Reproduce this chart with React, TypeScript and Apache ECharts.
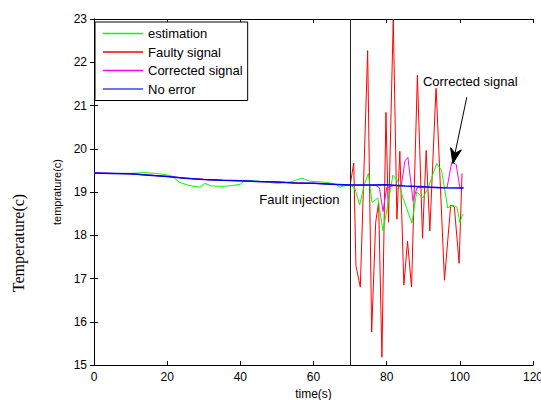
import React, { useEffect, useRef } from "react";
import * as echarts from "echarts";

const seriesNames = ["estimation", "Faulty signal", "Corrected signal", "No error"];
const xTicks = { min: 0, max: 120, interval: 20 };
const yTicks = { min: 15, max: 23, interval: 1 };
const faultTime = 70;

// No error (blue)
const noError: [number, number][] = [
  [0, 19.44], [5, 19.43], [10, 19.42], [15, 19.39], [20, 19.36], [25, 19.32], [30, 19.29],
  [35, 19.27], [40, 19.26], [45, 19.24], [50, 19.23], [55, 19.21], [60, 19.2], [65, 19.18],
  [70, 19.16], [75, 19.16], [80, 19.17], [85, 19.14], [90, 19.12], [95, 19.1], [100, 19.09], [101, 19.09],
];

// Pre-fault part shared by faulty and corrected signals
const preFault: [number, number][] = [
  [0, 19.44], [5, 19.43], [10, 19.42], [15, 19.39], [20, 19.36], [25, 19.32], [30, 19.29],
  [35, 19.27], [40, 19.26], [45, 19.24], [50, 19.23], [55, 19.21], [60, 19.2], [65, 19.18],
];

// Faulty signal after injection (red)
const faultyPart: [number, number][] = [
  [70, 19.15], [71, 19.67], [71.6, 17.3], [72.8, 16.8], [74.8, 22.27], [75.9, 15.76], [77, 18.3],
  [77.8, 18.76], [78.7, 15.18], [79.8, 20.84], [80.5, 18.3], [81.8, 23.0], [82.8, 18.37],
  [83.6, 19.94], [84.7, 16.85], [85.7, 17.86], [86.8, 16.8], [88.4, 21.7], [89.8, 17.93],
  [90.8, 19.96], [91.8, 18.1], [93.5, 21.44], [95.8, 16.96], [97.5, 18.7], [98.5, 18.65],
  [99.8, 17.35], [100.6, 19.43],
];

// Corrected signal after injection (magenta)
const correctedPart: [number, number][] = [
  [70, 19.16], [74, 19.16], [77, 19.15], [78, 19.1], [79, 18.55], [80, 19.1], [82, 19.15],
  [84, 19.15], [85, 19.72], [85.8, 19.8], [87.2, 18.8], [88.3, 19.1], [92, 19.1], [96.5, 19.1],
  [97.8, 19.69], [99, 19.64], [100, 19.1], [101, 19.1],
];

// Estimation (green)
const estimation: [number, number][] = [
  [0, 19.43], [5, 19.43], [10, 19.43], [14, 19.45], [18, 19.42], [21, 19.38], [23.5, 19.22],
  [26, 19.15], [29, 19.11], [30.3, 19.2], [32, 19.14], [35.3, 19.13], [38, 19.15], [40, 19.18],
  [41.3, 19.27], [45.4, 19.25], [48, 19.22], [50.3, 19.2], [53.6, 19.23], [56.8, 19.32],
  [59, 19.25], [62.6, 19.23], [65, 19.2], [66.4, 19.16], [67.2, 19.11], [69, 19.16],
  [70, 19.16], [71.3, 19.09], [72.6, 18.7], [74, 19.2], [75, 19.43], [76, 18.76], [77.6, 18.86],
  [79, 18.1], [80.5, 18.8], [81.7, 19.39], [83, 19.27], [84.4, 18.88], [86.9, 18.28], [88.2, 19.0],
  [89.9, 18.86], [91.3, 19.09], [93.7, 19.66], [95, 19.5], [96.7, 18.63], [98.1, 18.7],
  [99.2, 18.65], [100, 18.3], [100.8, 18.49],
];

const arrowTip: [number, number] = [98.1, 19.66];
const arrowTail: [number, number] = [101.9, 21.19];
const faultLabelAt: [number, number] = [45.2, 18.82];
const correctedLabelAt: [number, number] = [89.9, 21.55];

const FONT = 'Arial, "Liberation Sans", sans-serif';

export default function App() {
  const ref = useRef<HTMLDivElement>(null);
  useEffect(() => {
    document.body.style.margin = "0";
    const chart = echarts.init(ref.current!, undefined, { renderer: "svg" });
    const axisCommon = {
      type: "value" as const,
      axisLine: { show: true, lineStyle: { color: "#000", width: 1 } },
      axisTick: { show: true, inside: true, length: 4, lineStyle: { color: "#000" } },
      splitLine: { show: false },
    };
    const option: any = {
      animation: false,
      backgroundColor: "#fff",
      grid: { left: 94, right: 8, top: 19, bottom: 35, outerBoundsMode: "none", containLabel: false },
      legend: {
        data: seriesNames,
        orient: "vertical",
        left: 95,
        top: 22,
        padding: [5, 5, 5, 8],
        icon: "rect",
        itemWidth: 40,
        itemHeight: 1.5,
        itemGap: 5.5,
        backgroundColor: "#fff",
        borderColor: "#000",
        borderWidth: 1,
        borderRadius: 0,
        textStyle: { fontFamily: FONT, fontSize: 13, color: "#000" },
      },
      xAxis: [
        {
          ...axisCommon,
          ...xTicks,
          position: "bottom",
          name: "time(s)",
          nameLocation: "middle",
          nameGap: 21,
          nameTextStyle: { fontFamily: FONT, fontSize: 12, color: "#000" },
          axisLabel: { fontFamily: FONT, fontSize: 12, color: "#000", margin: 6 },
        },
        {
          ...axisCommon,
          ...xTicks,
          position: "top",
          axisLabel: { show: false },
        },
      ],
      yAxis: [
        {
          ...axisCommon,
          ...yTicks,
          position: "left",
          name: "temprature(c)",
          nameLocation: "middle",
          nameGap: 25,
          nameTextStyle: { fontFamily: FONT, fontSize: 11, color: "#000" },
          axisLabel: { fontFamily: FONT, fontSize: 12, color: "#000", margin: 7 },
        },
        {
          ...axisCommon,
          ...yTicks,
          position: "right",
          axisLabel: { show: false },
        },
      ],
      series: [
        {
          name: "Faulty signal",
          type: "line",
          data: [...preFault, ...faultyPart],
          symbol: "none",
          lineStyle: { color: "#ff0000", width: 1 },
          itemStyle: { color: "#ff0000" },
          z: 2,
          markLine: {
            silent: true,
            symbol: ["none", "none"],
            label: { show: false },
            lineStyle: { color: "#222", type: "solid", width: 1 },
            data: [{ xAxis: faultTime }],
          },
        },
        {
          name: "estimation",
          type: "line",
          data: estimation,
          symbol: "none",
          lineStyle: { color: "#00ff00", width: 1 },
          itemStyle: { color: "#00ff00" },
          z: 3,
        },
        {
          name: "Corrected signal",
          type: "line",
          data: [...preFault, ...correctedPart],
          symbol: "none",
          lineStyle: { color: "#ff00ff", width: 1 },
          itemStyle: { color: "#ff00ff" },
          z: 4,
        },
        {
          name: "No error",
          type: "line",
          data: noError,
          symbol: "none",
          lineStyle: { color: "#0000ff", width: 1.5 },
          itemStyle: { color: "#4040ff" },
          z: 5,
        },
      ],
    };
    chart.setOption(option);

    const tip = chart.convertToPixel({ gridIndex: 0 }, arrowTip) as number[];
    const tail = chart.convertToPixel({ gridIndex: 0 }, arrowTail) as number[];
    const dx = tip[0] - tail[0];
    const dy = tip[1] - tail[1];
    const len = Math.sqrt(dx * dx + dy * dy);
    const ux = dx / len;
    const uy = dy / len;
    const headLen = 15;
    const headW = 5.5;
    const bx = tip[0] - ux * headLen;
    const by = tip[1] - uy * headLen;
    const notchX = tip[0] - ux * headLen * 0.7;
    const notchY = tip[1] - uy * headLen * 0.7;
    const fault = chart.convertToPixel({ gridIndex: 0 }, faultLabelAt) as number[];
    const corr = chart.convertToPixel({ gridIndex: 0 }, correctedLabelAt) as number[];

    chart.setOption({
      graphic: [
        {
          type: "text",
          x: 18,
          y: 243,
          rotation: Math.PI / 2,
          style: {
            text: "Temperature(c)",
            fontFamily: '"Liberation Serif", "Times New Roman", serif',
            fontSize: 16,
            fill: "#000",
            textAlign: "center",
            textVerticalAlign: "middle",
          },
        },
        {
          type: "text",
          x: fault[0],
          y: fault[1],
          style: {
            text: "Fault injection",
            fontFamily: FONT,
            fontSize: 13,
            fill: "#000",
            textAlign: "left",
            textVerticalAlign: "middle",
          },
          z: 10,
        },
        {
          type: "text",
          x: corr[0],
          y: corr[1],
          style: {
            text: "Corrected signal",
            fontFamily: FONT,
            fontSize: 13,
            fill: "#000",
            textAlign: "left",
            textVerticalAlign: "middle",
            backgroundColor: "#fff",
          },
          z: 10,
        },
        {
          type: "line",
          shape: { x1: tail[0], y1: tail[1], x2: notchX, y2: notchY },
          style: { stroke: "#000", lineWidth: 1 },
          z: 10,
        },
        {
          type: "polygon",
          shape: {
            points: [
              [tip[0], tip[1]],
              [bx + uy * headW, by - ux * headW],
              [notchX, notchY],
              [bx - uy * headW, by + ux * headW],
            ],
          },
          style: { fill: "#000", stroke: "#000", lineWidth: 1 },
          z: 10,
        },
      ],
    });

    return () => chart.dispose();
  }, []);
  return <div ref={ref} style={{ width: 541, height: 400 }} />;
}
